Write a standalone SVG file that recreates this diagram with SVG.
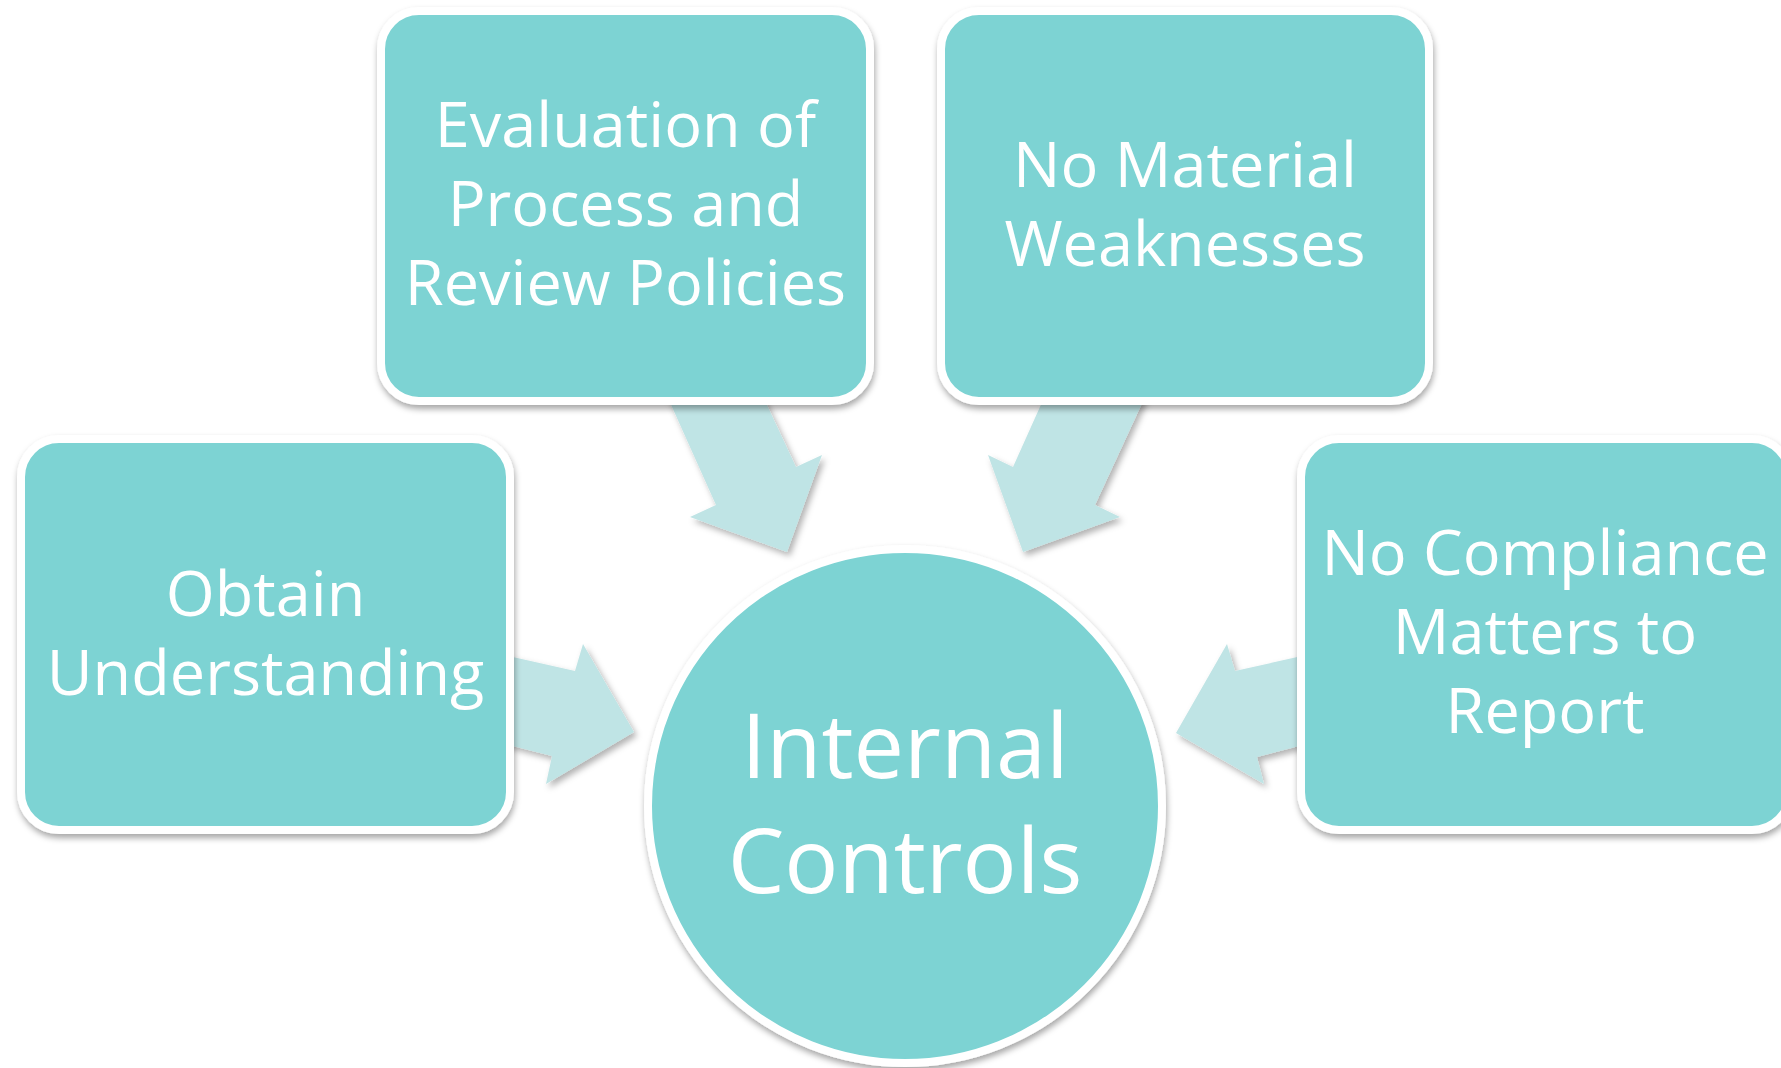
<svg xmlns="http://www.w3.org/2000/svg" width="1781" height="1068" viewBox="0 0 1781 1068">
<defs>
<style>
.node{fill:#7DD3D3;stroke:#FFFFFF;stroke-width:8}
.arrow{fill:#BFE4E5}
.lbl{font-family:"Open Sans","Liberation Sans",sans-serif;fill:#FFFFFF;text-anchor:middle;font-size:63px}
.big{font-size:90px}
</style>
<filter id="sh" x="-10%" y="-10%" width="120%" height="125%">
<feDropShadow dx="1" dy="4" stdDeviation="3" flood-color="#000000" flood-opacity="0.35"/>
</filter>
<filter id="ash" x="-10%" y="-10%" width="125%" height="125%">
<feDropShadow dx="3" dy="4" stdDeviation="3" flood-color="#000000" flood-opacity="0.3"/>
</filter>
</defs>
<rect width="1781" height="1068" fill="#FFFFFF"/>
<g id="connectors">
<polygon class="arrow" filter="url(#ash)" points="651,360 716,505 690,517 787,552 822,455 796,467 746,360"/>
<polygon class="arrow" filter="url(#ash)" points="1061,360 1013,467 988,455 1023,552 1120,517 1095,505 1162,360"/>
<polygon class="arrow" filter="url(#ash)" points="450,643 575,671 583,644 634,732 546,784 552,756 450,730"/>
<polygon class="arrow" filter="url(#ash)" points="1360,643 1235,671 1227,644 1176,733 1264,784 1257,757 1360,730"/>
</g>
<g id="node-evaluation">
<rect class="node" filter="url(#sh)" x="381" y="11" width="489" height="390" rx="38"/>
<text class="lbl" x="625.5" y="147">Evaluation of</text>
<text class="lbl" x="625.5" y="226">Process and</text>
<text class="lbl" x="625.5" y="305">Review Policies</text>
</g>
<g id="node-nomaterial">
<rect class="node" filter="url(#sh)" x="941" y="11" width="488" height="390" rx="38"/>
<text class="lbl" x="1185" y="187">No Material</text>
<text class="lbl" x="1185" y="266">Weaknesses</text>
</g>
<g id="node-obtain">
<rect class="node" filter="url(#sh)" x="21" y="439" width="489" height="391" rx="38"/>
<text class="lbl" x="265.5" y="616">Obtain</text>
<text class="lbl" x="265.5" y="695">Understanding</text>
</g>
<g id="node-compliance">
<rect class="node" filter="url(#sh)" x="1301" y="439" width="489" height="391" rx="38"/>
<text class="lbl" x="1545" y="575">No Compliance</text>
<text class="lbl" x="1545" y="654">Matters to</text>
<text class="lbl" x="1545" y="733">Report</text>
</g>
<g id="node-internal">
<circle class="node" filter="url(#sh)" cx="905" cy="806" r="257"/>
<text class="lbl big" x="905" y="778">Internal</text>
<text class="lbl big" x="905" y="893">Controls</text>
</g>
</svg>
